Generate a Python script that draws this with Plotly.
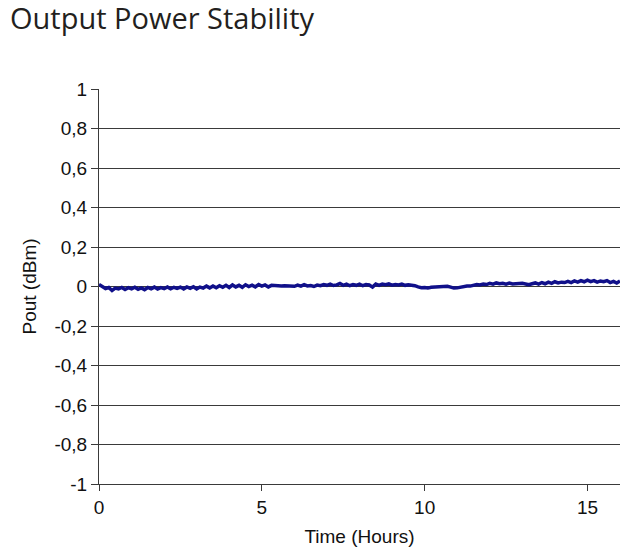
import plotly.graph_objects as go

time_hours = [round(i * 0.1, 1) for i in range(161)]
pout_dbm = [
    0.01, 0.0, -0.01, -0.005, -0.02, -0.008, -0.012, -0.005, -0.015, -0.006,
    -0.012, -0.004, -0.014, -0.007, -0.016, -0.005, -0.012, -0.003, -0.013, -0.006,
    -0.011, -0.002, -0.012, -0.004, -0.01, -0.003, -0.012, -0.002, -0.009, -0.001,
    -0.012, -0.003, -0.008, 0.002, -0.007, 0.003, -0.006, 0.004, -0.004, 0.006,
    -0.005, 0.008, -0.002, 0.006, -0.004, 0.009, 0.0, 0.007, -0.002, 0.01,
    0.002, 0.008, -0.002, 0.006, 0.004, 0.003, 0.002, 0.004, 0.003, 0.006,
    0.001, 0.007, 0.002, 0.009, 0.003, 0.005, 0.0, 0.007, 0.004, 0.01,
    0.006, 0.012, 0.005, 0.008, 0.015, 0.006, 0.012, 0.004, 0.01, 0.006,
    0.012, 0.004, 0.01, 0.008, -0.003, 0.012, 0.006, 0.012, 0.009, 0.013,
    0.007, 0.01, 0.008, 0.012, 0.006, 0.009, 0.008, 0.004, -0.002, -0.006,
    -0.005, -0.008, -0.004, -0.003, 0.0, 0.002, -0.001, 0.001, -0.003, -0.008,
    -0.007, -0.003, 0.0, 0.003, 0.002, 0.007, 0.01, 0.008, 0.013, 0.01,
    0.016, 0.012, 0.018, 0.014, 0.016, 0.012, 0.017, 0.013, 0.015, 0.014,
    0.016, 0.013, 0.009, 0.014, 0.018, 0.012, 0.02, 0.014, 0.022, 0.016,
    0.024, 0.018, 0.022, 0.02, 0.026, 0.02, 0.028, 0.022, 0.03, 0.024,
    0.032, 0.025, 0.03, 0.022, 0.028, 0.024, 0.03, 0.02, 0.026, 0.018,
    0.028,
]

y_tick_vals = [1, 0.8, 0.6, 0.4, 0.2, 0, -0.2, -0.4, -0.6, -0.8, -1]
y_tick_text = ["1", "0,8", "0,6", "0,4", "0,2", "0", "-0,2", "-0,4", "-0,6", "-0,8", "-1"]
x_tick_vals = [0, 5, 10, 15]
x_tick_text = ["0", "5", "10", "15"]

axis_color = "#3a3a3a"
tick_font = dict(family="Arial", size=19, color="#111111")

# page body has an 8px margin, so the figure is sized/offset to compensate
W, H = 620, 543

fig = go.Figure()
fig.add_trace(go.Scatter(
    x=time_hours, y=pout_dbm, mode="lines",
    line=dict(color="#10108a", width=3.5),
    showlegend=False,
))

fig.update_layout(
    width=W, height=H,
    paper_bgcolor="white", plot_bgcolor="white",
    margin=dict(l=91, r=8, t=81, b=67),
    title=dict(
        text="Output Power Stability",
        font=dict(family="Open Sans", size=29, color="#231f20"),
        x=2 / W, xanchor="left", xref="container",
        y=1, yanchor="top", yref="container",
        pad=dict(t=1, b=0, l=0, r=0),
    ),
    xaxis=dict(
        range=[0, 16], tickvals=x_tick_vals, ticktext=x_tick_text,
        showgrid=False, zeroline=False,
        showline=True, linecolor=axis_color, linewidth=1,
        ticks="outside", ticklen=6, tickcolor=axis_color,
        tickfont=tick_font,
        title=dict(text="Time (Hours)", font=tick_font, standoff=12),
    ),
    yaxis=dict(
        range=[-1, 1], tickvals=y_tick_vals, ticktext=y_tick_text,
        showgrid=True, gridcolor=axis_color, gridwidth=1,
        zeroline=True, zerolinecolor=axis_color, zerolinewidth=1,
        showline=True, linecolor=axis_color, linewidth=1,
        ticks="outside", ticklen=7, tickcolor=axis_color,
        tickfont=tick_font,
        title=dict(text="Pout (dBm)", font=tick_font, standoff=12),
    ),
)

fig.write_html("out.html")
